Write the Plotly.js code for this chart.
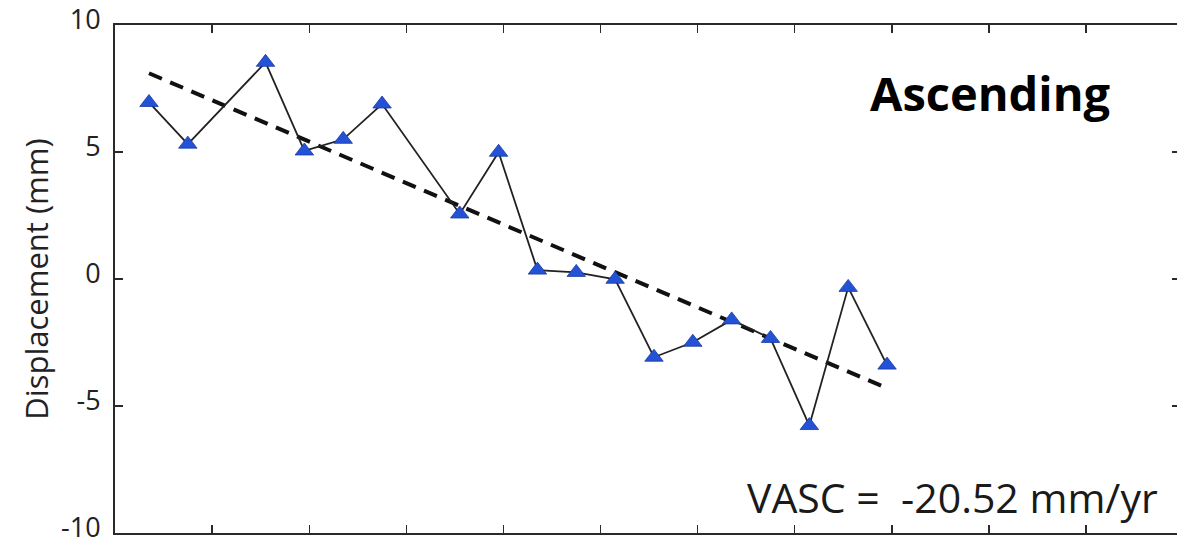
<!DOCTYPE html>
<html>
<head>
<meta charset="utf-8">
<script src="https://cdn.plot.ly/plotly-3.0.1.min.js"></script>
<style>
  html, body { margin: 0; padding: 0; overflow: hidden; background: #fff; }
  #chart { width: 1180px; height: 547px; }
</style>
</head>
<body>
<div id="chart"></div>
<script>
// Days since the start of the plotted window (12-day acquisition cycle, some gaps)
const dayOffset = [10.5, 22.5, 46.5, 58.5, 70.5, 82.5, 106.5, 118.5, 130.5, 142.5, 154.5, 166.5, 178.5, 190.5, 202.5, 214.5, 226.5, 238.5];
// LOS displacement (mm)
const displacement = [6.95, 5.31, 8.53, 5.04, 5.5, 6.89, 2.56, 4.99, 0.35, 0.26, -0.01, -3.08, -2.49, -1.61, -2.34, -5.77, -0.33, -3.39];
// Linear trend endpoints
const trendX = [10.5, 238.5];
const trendY = [8.1, -4.3];
// Axis ticks
const yTickVals = [-10, -5, 0, 5, 10];
const yTickText = ["-10", "-5", "0", "5", "10"];
const xTickVals = [30, 60, 90, 120, 150, 180, 210, 240, 270, 300];
const panelLabel = "Ascending";
const rateLabel = "VASC =  -20.52 mm/yr";
const yTitle = "Displacement (mm)";

const traces = [
  {
    x: trendX, y: trendY, type: 'scatter', mode: 'lines',
    line: { color: '#111', width: 4, dash: '14px,9px' },
    hoverinfo: 'skip'
  },
  {
    x: dayOffset, y: displacement, type: 'scatter', mode: 'lines+markers',
    line: { color: '#222', width: 1.8 },
    marker: { symbol: 'triangle-up', size: 16, color: '#2452d6', line: { color: '#173a9e', width: 0.8 } }
  }
];

const axisCommon = {
  showgrid: false, zeroline: false, showline: true, linecolor: '#2a2a2a', linewidth: 2,
  mirror: 'ticks', ticks: 'inside', ticklen: 8, tickwidth: 1.3, tickcolor: '#2a2a2a'
};

const layout = {
  width: 1180, height: 547,
  margin: { l: 115, r: 0, t: 25, b: 14 },
  paper_bgcolor: '#fff', plot_bgcolor: '#fff',
  showlegend: false,
  font: { family: 'Open Sans, sans-serif', color: '#222' },
  xaxis: Object.assign({}, axisCommon, {
    range: [0, 329], tickvals: xTickVals, showticklabels: false
  }),
  yaxis: Object.assign({}, axisCommon, {
    range: [-10, 10], tickvals: yTickVals, ticktext: yTickText,
    tickfont: { size: 27, family: 'Open Sans, sans-serif', color: '#222' },
    ticklabelstandoff: 7,
    ticklabelshift: -5,
    ticklabeloverflow: 'allow',
    title: { text: yTitle, font: { size: 31, family: 'Open Sans, sans-serif', color: '#222' }, standoff: 3 },
    automargin: false
  }),
  annotations: [
    {
      text: '<b>' + panelLabel + '</b>', xref: 'paper', yref: 'paper',
      x: 0.8216, y: 0.866, xanchor: 'center', yanchor: 'middle', showarrow: false,
      font: { size: 47, family: 'Open Sans, sans-serif', color: '#000' }
    },
    {
      text: rateLabel, xref: 'paper', yref: 'paper',
      x: 0.786, y: 0.071, xanchor: 'center', yanchor: 'middle', showarrow: false,
      font: { size: 41, family: 'Open Sans, sans-serif', color: '#1a1a1a' }
    }
  ]
};

Plotly.newPlot('chart', traces, layout, { displayModeBar: false, staticPlot: true });
</script>
</body>
</html>
